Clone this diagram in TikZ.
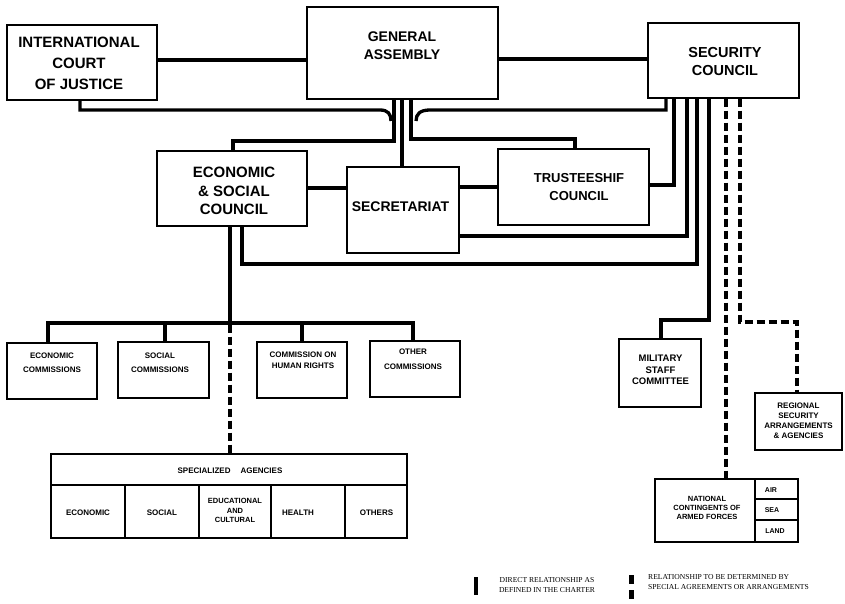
\documentclass[tikz,border=0pt]{standalone}
\usepackage{fontspec}
\setmainfont{Liberation Serif}
\newfontfamily\hv{Liberation Sans}
\usetikzlibrary{fit}
\newcommand{\fz}[2]{\fontsize{#1}{#2}\selectfont}
\begin{document}
\begin{tikzpicture}[x=1pt,y=-1pt,
  box/.style={draw, line width=1.2pt, inner sep=0pt},
  lbl/.style={font=\hv\bfseries, align=center, inner sep=0pt},
  leg/.style={inner sep=0pt},
  conn/.style={line width=3.3pt, line join=miter},
  dconn/.style={line width=4pt, dash pattern=on 8pt off 4pt}]
\useasboundingbox (0,0) rectangle (845,604);

% ---------- main organs ----------
\node[box, fit={(7,25) (157,100)}] (icj) {};
\node[lbl, font=\hv\bfseries\fz{15}{21}] (ticj) at (79,63) {INTERNATIONAL\\COURT\\OF JUSTICE};
\node[box, fit={(307,7) (498,99)}] (ga) {};
\node[lbl, font=\hv\bfseries\fz{14}{18}] (tga) at (402,45.5) {GENERAL\\ASSEMBLY};
\node[box, fit={(648,23) (799,98)}] (sc) {};
\node[lbl, font=\hv\bfseries\fz{14.5}{18}] (tsc) at (725,61.5) {SECURITY\\COUNCIL};
\node[box, fit={(157,151) (307,226)}] (eco) {};
\node[lbl, font=\hv\bfseries\fz{15}{18.5}] (teco) at (234,191) {ECONOMIC\\\& SOCIAL\\COUNCIL};
\node[box, fit={(347,167) (459,253)}] (sec) {};
\node[lbl, font=\hv\bfseries\fz{14}{18}] (tsec) at (400.5,206.5) {SECRETARIAT};
\node[box, fit={(498,149) (649,225)}] (tru) {};
\node[lbl, font=\hv\bfseries\fz{13}{18}] (ttru) at (579,187.5) {TRUSTEESHIF\\COUNCIL};

% ---------- commissions ----------
\node[box, fit={(7,343) (97,399)}] (ec1) {};
\node[lbl, font=\hv\bfseries\fz{8}{14}] (tec1) at (52,362.5) {ECONOMIC\\COMMISSIONS};
\node[box, fit={(118,342) (209,398)}] (soc) {};
\node[lbl, font=\hv\bfseries\fz{8}{14}] (tsoc) at (160,362.5) {SOCIAL\\COMMISSIONS};
\node[box, fit={(257,342) (347,398)}] (hr) {};
\node[lbl, font=\hv\bfseries\fz{8}{11}] (thr) at (303,360) {COMMISSION ON\\HUMAN RIGHTS};
\node[box, fit={(370,341) (460,397)}] (oth) {};
\node[lbl, font=\hv\bfseries\fz{8}{15}] (toth) at (413,359) {OTHER\\COMMISSIONS};

% ---------- specialized agencies ----------
\node[box, fit={(51,454) (407,485)}] (spa) {};
\node[lbl, font=\hv\bfseries\fz{8}{10}] (tspa) at (230,470.5) {SPECIALIZED\hspace{10pt}AGENCIES};
\node[box, fit={(51,485) (125,538)}] (sa1) {};
\node[box, fit={(125,485) (199,538)}] (sa2) {};
\node[box, fit={(199,485) (271,538)}] (sa3) {};
\node[box, fit={(271,485) (345,538)}] (sa4) {};
\node[box, fit={(345,485) (407,538)}] (sa5) {};
\node[lbl, font=\hv\bfseries\fz{8}{10}] (tsa1) at (88,512.5) {ECONOMIC};
\node[lbl, font=\hv\bfseries\fz{8}{10}] (tsa2) at (162,512.5) {SOCIAL};
\node[lbl, font=\hv\bfseries\fz{7.5}{9.5}] (tsa3) at (235,510.5) {EDUCATIONAL\\AND\\CULTURAL};
\node[lbl, font=\hv\bfseries\fz{8}{10}] (tsa4) at (298,512.5) {HEALTH};
\node[lbl, font=\hv\bfseries\fz{8}{10}] (tsa5) at (376.5,512.5) {OTHERS};

% ---------- security council bodies ----------
\node[box, fit={(619,339) (701,407)}] (msc) {};
\node[lbl, font=\hv\bfseries\fz{9.5}{11.5}] (tmsc) at (660.5,370) {MILITARY\\STAFF\\COMMITTEE};
\node[box, fit={(755,393) (842,450)}] (rsa) {};
\node[lbl, font=\hv\bfseries\fz{8}{10}] (trsa) at (798.5,421) {REGIONAL\\SECURITY\\ARRANGEMENTS\\\& AGENCIES};
\node[box, fit={(655,479) (755,542)}] (nca) {};
\node[lbl, font=\hv\bfseries\fz{7.5}{9}] (tnca) at (707,507.5) {NATIONAL\\CONTINGENTS OF\\ARMED FORCES};
\node[box, fit={(755,479) (798,499)}] (air) {};
\node[box, fit={(755,499) (798,520)}] (sea) {};
\node[box, fit={(755,520) (798,542)}] (land) {};
\node[lbl, font=\hv\bfseries\fz{7}{9}] (tair) at (771,490) {AIR};
\node[lbl, font=\hv\bfseries\fz{7}{9}] (tsea) at (772,510.5) {SEA};
\node[lbl, font=\hv\bfseries\fz{7}{9}] (tland) at (775,531) {LAND};

% ---------- connectors ----------
\draw[conn] (icj.east |- 0,60) -- (ga.west |- 0,60);
\draw[conn] (ga.east |- 0,59) -- (sc.west |- 0,59);
\draw[conn] (ga.south -| 394,0) -- (394,141) -| (eco.north -| 233,0);
\draw[conn] (ga.south -| 402,0) -- (sec.north -| 402,0);
\draw[conn] (ga.south -| 411,0) -- (411,139) -| (tru.north -| 575,0);
\draw[conn] (icj.south -| 80,0) |- (380,110) .. controls (388,110) and (391,114) .. (391,121);
\draw[conn] (416,121) .. controls (416,114) and (420,110) .. (430,110) -| (sc.south -| 666,0);
\draw[conn] (eco.east |- 0,188) -- (sec.west |- 0,188);
\draw[conn] (sec.east |- 0,187) -- (tru.west |- 0,187);
\draw[conn] (sc.south -| 674,0) |- (tru.east |- 0,185);
\draw[conn] (sc.south -| 687,0) |- (sec.east |- 0,236);
\draw[conn] (sc.south -| 697,0) |- (242,264) -- (eco.south -| 242,0);
\draw[conn] (sc.south -| 709,0) -- (709,320) -| (msc.north -| 661,0);
\draw[dconn] (sc.south -| 726,0) -- (nca.north -| 726,0);
\draw[dconn] (sc.south -| 740,0) -- (740,322) -| (rsa.north -| 797,0);

\draw[conn] (eco.south -| 230,0) -- (230,323) coordinate (jct);
\draw[conn] (ec1.north -| 48,0) |- (413,323) -- (oth.north -| 413,0);
\draw[conn] (165,323) -- (soc.north -| 165,0);
\draw[conn] (302,323) -- (hr.north -| 302,0);
\draw[dconn] (jct) ++(0,1.6) -- (spa.north -| 230,0);

% ---------- legend ----------
\draw[line width=4pt] (476,577) -- (476,595);
\draw[line width=5pt] (631,575) -- (631,584);
\draw[line width=5pt] (631,590) -- (631,599);
\node[leg, align=center, font=\fz{7.6}{10}] (leg1) at (547,585.5) {DIRECT RELATIONSHIP AS\\DEFINED IN THE CHARTER};
\node[leg, align=left, anchor=west, font=\fz{7.6}{10}] (leg2) at (648,582.5) {RELATIONSHIP TO BE DETERMINED BY\\SPECIAL AGREEMENTS OR ARRANGEMENTS};
\end{tikzpicture}
\end{document}
